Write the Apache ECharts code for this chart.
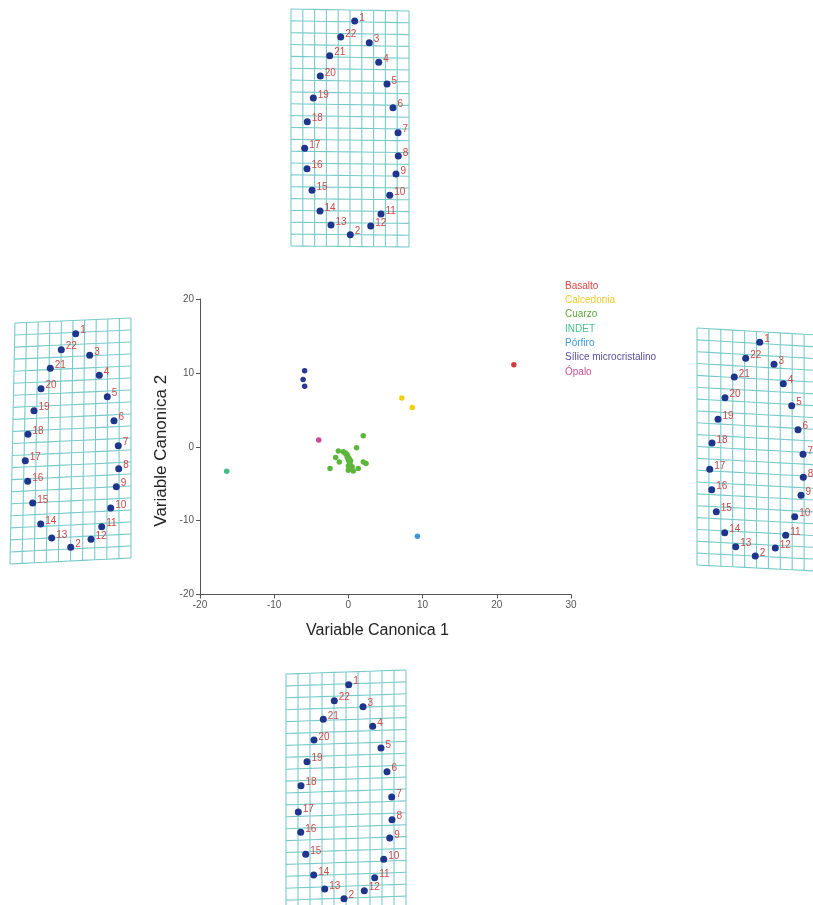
<!DOCTYPE html>
<html>
<head>
<meta charset="utf-8">
<script src="https://cdn.jsdelivr.net/npm/echarts@6/dist/echarts.min.js"></script>
<style>
html,body{margin:0;padding:0;background:#fff;}
#chart{width:813px;height:905px;}
</style>
</head>
<body>
<div id="chart"></div>
<script>
// ---------- main scatter data (Variable Canonica 1, Variable Canonica 2) ----------
const groupNames = ['Basalto','Calcedonia','Cuarzo','INDET','Pórfiro','Sílice microcristalino','Ópalo'];
const basalto = [[22.3, 11.1]];
const calcedonia = [[7.2, 6.6], [8.6, 5.3]];
const cuarzo = [
  [2.0, 1.5], [1.1, -0.15], [-1.36, -0.56], [-0.69, -0.69], [-0.32, -0.91],
  [-1.71, -1.45], [-0.15, -1.45], [0.12, -2.05], [-1.23, -2.05], [2.01, -2.05],
  [2.37, -2.26], [0.22, -2.49], [0.35, -2.94], [1.33, -2.94], [-2.48, -2.94],
  [-0.01, -3.17], [0.66, -3.27], [-0.5, -0.8], [-0.1, -1.2], [0.1, -1.6],
  [0.3, -1.9], [0.2, -2.3], [0.5, -2.7], [0.0, -2.6], [-0.3, -1.0],
  [0.4, -3.0], [0.0, -1.8]
];
const indet = [[-16.4, -3.3]];
const porfiro = [[9.3, -12.1]];
const silice = [[-5.9, 10.3], [-6.1, 9.1], [-5.9, 8.2]];
const opalo = [[-4.0, 0.9]];
const groupData = [basalto, calcedonia, cuarzo, indet, porfiro, silice, opalo];
const pointColors = ['#d83a3a', '#f2cf10', '#5db63c', '#3fbf86', '#3a98d8', '#2e3790', '#c44a9c'];
const legendColors = ['#d9473f', '#eccb2c', '#5aa83a', '#45bf8c', '#3d9ad8', '#5a4f9c', '#c8509a'];
const xTicks = { min: -20, max: 30, step: 10 };
const yTicks = { min: -20, max: 20, step: 10 };

// ---------- deformation grids: landmarks 1..22 (panel units) ----------
const landmarkLabels = ['1','2','3','4','5','6','7','8','9','10','11','12','13','14','15','16','17','18','19','20','21','22'];
const lmTop = [[63.7,12],[59.3,225.7],[78.3,33.7],[87.7,53.3],[96,75],[102,98.7],[107,123.7],[107.3,147],[105,165],[98.7,186.3],[90,205],[79.7,217],[40,216],[29,202],[21,181.3],[16,159.7],[13.7,139.3],[16.3,112.7],[22.3,89],[29.3,67],[38.7,46.7],[49.7,28]];
const lmLeft = [[63.7,15.7],[58.7,229.3],[77.7,37.3],[87.3,57.3],[95.3,78.7],[102,102.7],[106.3,127.7],[106.7,150.7],[104.3,168.7],[98.7,190],[89.7,208.7],[79,221.3],[39.7,220],[28.7,206],[20.7,185],[15.7,163.3],[13.3,142.7],[16,116.3],[22,92.7],[29,70.7],[38.3,50.3],[49.3,31.7]];
const lmRight = [[62.7,14.3],[58.3,228],[77,36.3],[86.3,55.7],[94.7,77.7],[101,101.7],[106,126.3],[106.3,149.3],[104,167.3],[97.7,188.7],[88.7,207.3],[78.3,220],[38.7,218.7],[27.7,204.7],[19.3,183.7],[14.7,161.7],[12.7,141.3],[15,115],[21,91.3],[28,69.7],[37.3,49],[48.7,30.3]];
const lmBottom = [[62.7,14.7],[58,228.7],[77,36.7],[86.7,56.3],[95,78],[101,101.7],[105.7,127],[106,149.7],[103.7,168],[97.7,189.3],[88.7,207.7],[78.3,220.7],[38.7,219],[27.7,205],[19.7,184.3],[14.7,162.3],[12.3,142],[15,115.7],[21,91.7],[28,70],[37.3,49.3],[48.3,30.7]];
// lattice outline corners [TL, TR, BL, BR] (panel units)
const cornersTop = [[0,0],[118,2],[0,237],[118,238]];
const cornersLeft = [[3,5],[119,0],[-2,246],[119,240]];
const cornersRight = [[0,0],[119,7],[0,237],[119,243]];
const cornersBottom = [[0,4],[120,0],[0,242],[120,238]];
const latticeCols = 10, latticeRows = 20;

// ---------- layout (panel boxes kept inside the canvas, 1 unit = 1 px) ----------
const FONT = 'Arial, "Liberation Sans", sans-serif';
const panels = [
  { lm: lmTop, corners: cornersTop, box: { left: 291, top: 9, width: 122, height: 245 } },
  { lm: lmLeft, corners: cornersLeft, box: { left: 12, top: 318, width: 122, height: 250 } },
  { lm: lmRight, corners: cornersRight, box: { left: 697, top: 328, width: 116, height: 250 } },
  { lm: lmBottom, corners: cornersBottom, box: { left: 286, top: 670, width: 122, height: 235 } }
];

function latticeLines(c) {
  const [tl, tr, bl, br] = c;
  const P = (s, t) => [
    (1-s)*(1-t)*tl[0] + s*(1-t)*tr[0] + (1-s)*t*bl[0] + s*t*br[0],
    (1-s)*(1-t)*tl[1] + s*(1-t)*tr[1] + (1-s)*t*bl[1] + s*t*br[1]
  ];
  const out = [];
  for (let i = 0; i <= latticeCols; i++) {
    const pts = [];
    for (let j = 0; j <= latticeRows; j++) pts.push(P(i/latticeCols, j/latticeRows));
    out.push({ coords: pts });
  }
  for (let j = 0; j <= latticeRows; j++) {
    const pts = [];
    for (let i = 0; i <= latticeCols; i++) pts.push(P(i/latticeCols, j/latticeRows));
    out.push({ coords: pts });
  }
  return out;
}

const grids = [{ left: 200, top: 299, width: 371, height: 295.5 }];
const xAxes = [{
  gridIndex: 0, type: 'value', min: xTicks.min, max: xTicks.max, interval: xTicks.step,
  splitLine: { show: false },
  axisLine: { show: true, onZero: false, lineStyle: { color: '#555', width: 1 } },
  axisTick: { show: true, length: 4, lineStyle: { color: '#555' } },
  axisLabel: { fontSize: 10, color: '#555', margin: 6, fontFamily: FONT },
  name: 'Variable Canonica 1', nameLocation: 'middle', nameGap: 28,
  nameTextStyle: { fontSize: 16, color: '#222', fontFamily: FONT, padding: [0, 16, 0, 0] }
}];
const yAxes = [{
  gridIndex: 0, type: 'value', min: yTicks.min, max: yTicks.max, interval: yTicks.step,
  splitLine: { show: false },
  axisLine: { show: true, onZero: false, lineStyle: { color: '#555', width: 1 } },
  axisTick: { show: true, length: 4, lineStyle: { color: '#555' } },
  axisLabel: { fontSize: 10, color: '#555', margin: 6, fontFamily: FONT },
  name: 'Variable Canonica 2', nameLocation: 'middle', nameGap: 30,
  nameTextStyle: { fontSize: 17, color: '#222', fontFamily: FONT, padding: [0, 8, 0, 0] }
}];
const series = [];
groupNames.forEach((n, i) => {
  series.push({
    name: n, type: 'scatter', xAxisIndex: 0, yAxisIndex: 0,
    data: groupData[i], symbolSize: 5.5, itemStyle: { color: pointColors[i], opacity: 1 }, z: 5
  });
});

panels.forEach((p, k) => {
  const gi = k + 1;
  grids.push(Object.assign({}, p.box));
  xAxes.push({ gridIndex: gi, type: 'value', min: 0, max: p.box.width, show: false });
  yAxes.push({ gridIndex: gi, type: 'value', min: 0, max: p.box.height, inverse: true, show: false });
  series.push({
    type: 'lines', coordinateSystem: 'cartesian2d', xAxisIndex: gi, yAxisIndex: gi,
    polyline: true, silent: true, z: 1, clip: false,
    lineStyle: { color: '#78caca', width: 1.1, opacity: 1 },
    data: latticeLines(p.corners)
  });
  series.push({
    type: 'scatter', xAxisIndex: gi, yAxisIndex: gi, z: 3, symbolSize: 7, clip: false,
    itemStyle: { color: '#1f358c', opacity: 1 },
    data: p.lm.map((d, i) => ({ value: d, name: landmarkLabels[i] })),
    label: {
      show: true, position: 'right', distance: 1, offset: [0, -3],
      formatter: (q) => q.name, color: '#cc4a45', fontSize: 10, fontFamily: FONT
    }
  });
});

const chart = echarts.init(document.getElementById('chart'), null, { renderer: 'canvas' });
chart.setOption({
  animation: false,
  backgroundColor: '#fff',
  grid: grids,
  xAxis: xAxes,
  yAxis: yAxes,
  legend: {
    orient: 'vertical', left: 555, top: 276, icon: 'none', itemWidth: 0, itemHeight: 10, itemGap: 4.3,
    selectedMode: false,
    textStyle: { fontSize: 10, fontFamily: FONT },
    data: groupNames.map((n, i) => ({ name: n, textStyle: { color: legendColors[i] } }))
  },
  series: series
});
</script>
</body>
</html>
